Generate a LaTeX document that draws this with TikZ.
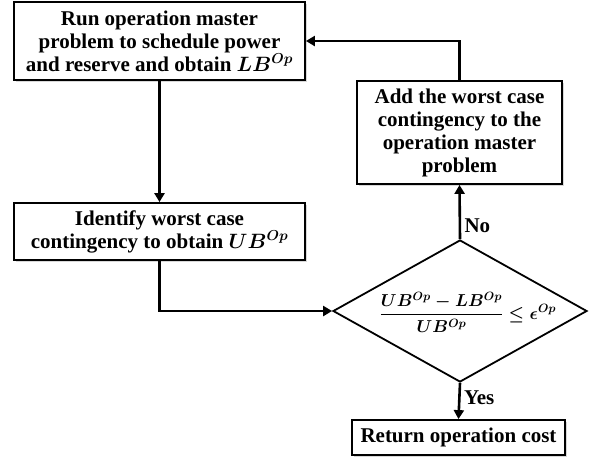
\documentclass[tikz,border=0pt]{standalone}
\usepackage{amsmath, amssymb, bm}
\usepackage{fontspec}
\setmainfont{Liberation Serif}
\usepackage{tikz}
\usetikzlibrary{arrows.meta, shapes.geometric, shadows}

\begin{document}
\begin{tikzpicture}[x=1pt, y=-1pt,
  caixa/.style={draw, line width=1.8pt, fill=white, align=center,
    font=\fontsize{21}{23}\selectfont\bfseries\boldmath, inner sep=2pt,
    drop shadow={shadow xshift=2pt, shadow yshift=-2pt, fill=black!30}},
  seta/.style={line width=2.6pt, -{Triangle[width=10pt, length=9pt]}},
  rotulo/.style={font=\fontsize{21}{23}\selectfont\bfseries}]

% Margens da figura
\useasboundingbox (0,0) rectangle (594,459);

% Problema mestre
\node[caixa, minimum width=291pt, minimum height=78pt] (mestre) at (159.5,41)
  {Run operation master\\ problem to schedule power\\ and reserve and obtain $LB^{Op}$};

% Pior contingencia
\node[caixa, minimum width=291pt, minimum height=57pt] (pior) at (159.5,231.5)
  {Identify worst case\\ contingency to obtain $UB^{Op}$};

% Adicionar contingencia
\node[caixa, minimum width=205pt, minimum height=103pt] (adiciona) at (459.5,132.5)
  {Add the worst case\\ contingency to the\\ operation master\\ problem};

% Teste de convergencia
\node[draw, diamond, line width=1.8pt, aspect=1.79, inner sep=0pt,
  minimum width=254pt, minimum height=142pt] (teste) at (460,311) {};
\node[font=\fontsize{18}{22}\selectfont\boldmath] (formula) at (468,312)
  {$\dfrac{UB^{Op}-LB^{Op}}{UB^{Op}} \le \epsilon^{Op}$};

% Resultado
\node[caixa, minimum width=213pt, minimum height=35pt] (custo) at (458.5,437.5)
  {Return operation cost};

% Setas
\draw[seta] (mestre.south) -- (pior.north);
\draw[seta] (pior.south) |- (teste.west);
\draw[seta] (teste.north) -- node[rotulo, right, pos=0.25] {No} (adiciona.south);
\draw[seta] (adiciona.north) |- (mestre.east);
\draw[seta] (teste.south) -- node[rotulo, right, pos=0.4] {Yes} (custo.north);

\end{tikzpicture}
\end{document}
